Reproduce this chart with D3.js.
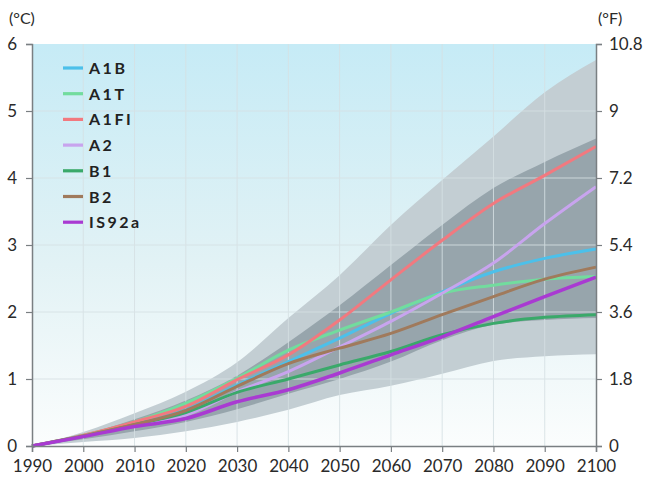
<!DOCTYPE html>
<html><head><meta charset="utf-8">
<script src="https://cdn.jsdelivr.net/npm/d3@7"></script>
<style>
html,body{margin:0;padding:0;background:#fff;}
svg{display:block;font-family:Lato,"Open Sans",sans-serif;}
</style></head>
<body>
<svg id="c" width="648" height="483"></svg>
<script>
const years = [1990,2000,2010,2020,2030,2040,2050,2060,2070,2080,2090,2100];
const seriesNames = ["A1B","A1T","A1FI","A2","B1","B2","IS92a"];
const seriesColors = ["#4cc0ea","#72dc9e","#f2797f","#c8a4ee","#3aa96a","#a07a5c","#a93ad2"];
const A1B   = [0,0.15,0.33,0.54,0.91,1.26,1.61,1.98,2.30,2.60,2.80,2.94];
const A1T   = [0,0.16,0.36,0.64,1.01,1.43,1.73,2.00,2.28,2.40,2.49,2.53];
const A1FI  = [0,0.16,0.36,0.59,0.99,1.36,1.88,2.48,3.07,3.62,4.04,4.47];
const A2    = [0,0.15,0.31,0.46,0.81,1.11,1.48,1.86,2.28,2.73,3.32,3.87];
const B1    = [0,0.15,0.32,0.50,0.80,1.00,1.21,1.41,1.66,1.83,1.92,1.96];
const B2    = [0,0.15,0.32,0.53,0.89,1.23,1.46,1.68,1.96,2.23,2.49,2.67];
const IS92a = [0,0.14,0.29,0.41,0.66,0.84,1.09,1.36,1.63,1.93,2.23,2.52];
const outerUpper = [0,0.21,0.49,0.81,1.25,1.91,2.55,3.30,3.97,4.62,5.28,5.76];
const outerLower = [0,0.06,0.12,0.22,0.36,0.54,0.76,0.90,1.08,1.27,1.34,1.37];
const innerUpper = [0,0.17,0.40,0.68,1.05,1.55,2.10,2.70,3.30,3.85,4.24,4.59];
const innerLower = [0,0.10,0.22,0.36,0.55,0.78,1.00,1.26,1.58,1.81,1.88,1.91];
const celsiusTicks = [0,1,2,3,4,5,6];
const fahrenheitTicks = [0,1.8,3.6,5.4,7.2,9,10.8];
const seriesValues = [A1B,A1T,A1FI,A2,B1,B2,IS92a];

const svg = d3.select("#c");
const x = d3.scaleLinear().domain([1990,2100]).range([32,596]);
const y = d3.scaleLinear().domain([0,6]).range([446,44]);
const yF = d3.scaleLinear().domain([0,10.8]).range([446,44]);

// background gradient
const defs = svg.append("defs");
const g = defs.append("linearGradient").attr("id","bg").attr("x1",0).attr("y1",0).attr("x2",0).attr("y2",1);
g.append("stop").attr("offset","0%").attr("stop-color","#c6ebf6");
g.append("stop").attr("offset","55%").attr("stop-color","#e2f2f5");
g.append("stop").attr("offset","100%").attr("stop-color","#fbfdfd");
svg.append("rect").attr("x",x(1990)).attr("y",y(6)).attr("width",x(2100)-x(1990)).attr("height",y(0)-y(6)).attr("fill","url(#bg)");

// bands
const area = (lo,hi) => d3.area().x((d,i)=>x(years[i])).y0((d,i)=>y(lo[i])).y1((d,i)=>y(hi[i])).curve(d3.curveMonotoneX)(years);
svg.append("path").attr("d",area(outerLower,outerUpper)).attr("fill","#c3ced3");
svg.append("path").attr("d",area(innerLower,innerUpper)).attr("fill","#97a5ac");

// grid
const grid = svg.append("g").attr("stroke","#d6e1e4").attr("stroke-width",1).attr("opacity",0.85);
years.slice(1,-1).forEach(v=>grid.append("line").attr("x1",x(v)).attr("x2",x(v)).attr("y1",y(6)).attr("y2",y(0)));
celsiusTicks.slice(1,-1).forEach(v=>grid.append("line").attr("x1",x(1990)).attr("x2",x(2100)).attr("y1",y(v)).attr("y2",y(v)));

// lines
const line = d3.line().x((d,i)=>x(years[i])).y(d=>y(d)).curve(d3.curveMonotoneX);
seriesValues.forEach((vals,k)=>{
  svg.append("path").attr("d",line(vals)).attr("fill","none")
    .attr("stroke",seriesColors[k]).attr("stroke-width",k===6?3.5:3).attr("stroke-linejoin","round");
});

// axes
const axColor = "#7a7f82";
const fmtF = d=> d===0?"0":d3.format(".1f")(d).replace(/\.0$/,"");
const left = svg.append("g").attr("transform",`translate(${x(1990)},0)`)
  .call(d3.axisLeft(y).tickValues(celsiusTicks).tickSize(6).tickPadding(9).tickFormat(d3.format("d")));
const right = svg.append("g").attr("transform",`translate(${x(2100)},0)`)
  .call(d3.axisRight(yF).tickValues(fahrenheitTicks).tickSize(6).tickPadding(7).tickFormat(fmtF));
const bottom = svg.append("g").attr("transform",`translate(0,${y(0)})`)
  .call(d3.axisBottom(x).tickValues(years).tickSize(6).tickPadding(8).tickFormat(d3.format("d")));
[left,right,bottom].forEach(a=>{
  a.select(".domain").attr("stroke",axColor).attr("stroke-width",1.5);
  a.selectAll(".tick line").attr("stroke",axColor).attr("stroke-width",1.2);
  a.selectAll(".tick text").attr("fill","#2a2a2a").style("font-size","17px").style("font-family","Lato, sans-serif");
});

svg.append("text").attr("x",9).attr("y",24).attr("fill","#2a2a2a").style("font-size","16px").text("(°C)");
svg.append("text").attr("x",598).attr("y",24).attr("fill","#2a2a2a").style("font-size","16px").text("(°F)");

// legend
const leg = svg.append("g");
seriesNames.forEach((n,k)=>{
  const yy = 68 + k*25.7;
  leg.append("line").attr("x1",63).attr("x2",83).attr("y1",yy).attr("y2",yy)
    .attr("stroke",seriesColors[k]).attr("stroke-width",3.2);
  leg.append("text").attr("x",89).attr("y",yy+6).attr("fill","#222")
    .style("font-size","16px").style("font-weight","bold").style("letter-spacing","2.5px").text(n);
});
</script>
</body></html>
